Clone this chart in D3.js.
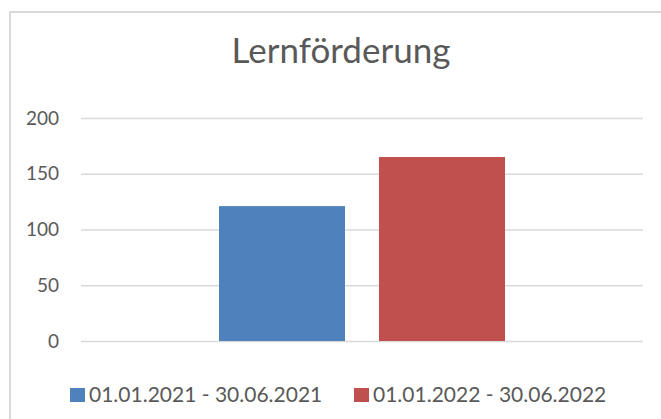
<!DOCTYPE html>
<html><head><meta charset="utf-8">
<script src="https://cdn.jsdelivr.net/npm/d3@7"></script>
<style>body{margin:0;background:#fff;}svg{display:block;}</style>
</head><body>
<script>
const title = "Lernförderung";
const categories = [""];
const seriesNames = ["01.01.2021 - 30.06.2021", "01.01.2022 - 30.06.2022"];
const seriesValues = [[121], [165]];
const seriesColors = ["#4f81bd", "#c0504d"];
const yTicks = [0, 50, 100, 150, 200];

const W = 661, H = 419;
const font = "Lato, 'Open Sans', sans-serif";
const svg = d3.select("body").append("svg").attr("width", W).attr("height", H);
svg.append("rect").attr("width", W).attr("height", H).attr("fill", "#fff");
svg.append("rect").attr("x", 10).attr("y", 12).attr("width", 700).attr("height", 500)
  .attr("fill", "none").attr("stroke", "#d9d9d9").attr("stroke-width", 2);

const m = {left: 81, right: 643, top: 118, bottom: 341};
const y = d3.scaleLinear().domain([0, 200]).range([m.bottom, m.top]);
const x0 = d3.scaleBand().domain(categories).range([m.left, m.right]).paddingInner(0).paddingOuter(0);

svg.append("text").attr("x", 341).attr("y", 63).attr("text-anchor", "middle")
  .attr("font-family", font).attr("font-size", 35).attr("fill", "#595959").text(title);

const yAxis = d3.axisLeft(y).tickValues(yTicks).tickSize(-(m.right - m.left)).tickPadding(22);
const gy = svg.append("g").attr("transform", `translate(${m.left},0)`).call(yAxis);
gy.select(".domain").remove();
gy.selectAll(".tick line").attr("stroke", "#d9d9d9").attr("stroke-width", 1.5);
gy.selectAll(".tick text").attr("font-family", font).attr("font-size", 19).attr("fill", "#595959");

const barW = 126, gap = 34;
categories.forEach((c, ci) => {
  const cx = x0(c) + x0.bandwidth() / 2;
  const x1 = d3.scaleBand().domain(d3.range(seriesNames.length))
    .range([cx - barW - gap / 2, cx + barW + gap / 2]).paddingInner(gap / (barW + gap)).paddingOuter(0);
  seriesNames.forEach((s, si) => {
    const v = seriesValues[si][ci];
    svg.append("rect").attr("x", x1(si)).attr("y", y(v)).attr("width", x1.bandwidth())
      .attr("height", y(0) - y(v)).attr("fill", seriesColors[si]);
  });
});

const legX = [70, 354];
seriesNames.forEach((s, i) => {
  svg.append("rect").attr("x", legX[i]).attr("y", 388).attr("width", 15).attr("height", 14).attr("fill", seriesColors[i]);
  svg.append("text").attr("x", legX[i] + 19).attr("y", 402).attr("font-family", font)
    .attr("font-size", 21).attr("fill", "#595959").text(s);
});
</script>
</body></html>
